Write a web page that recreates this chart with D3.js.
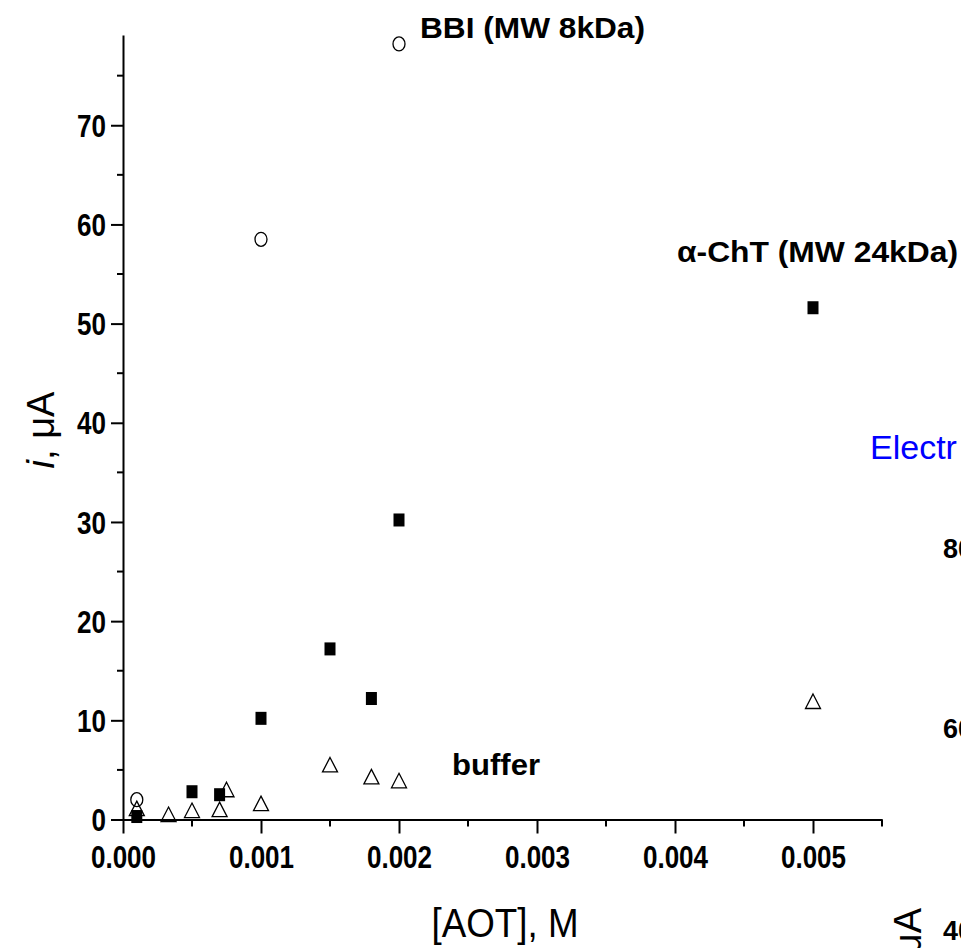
<!DOCTYPE html>
<html><head><meta charset="utf-8">
<script src="https://cdn.jsdelivr.net/npm/d3@7"></script>
<style>body{margin:0;background:#fff}svg{display:block}</style>
</head><body>
<svg id="c" width="961" height="948"></svg>
<script>
// ---- data ----
const xMajorTicks = [0, 0.001, 0.002, 0.003, 0.004, 0.005];
const xMinorTicks = [0.0005, 0.0015, 0.0025, 0.0035, 0.0045, 0.0055];
const yMajorTicks = [0, 10, 20, 30, 40, 50, 60, 70];
const yMinorTicks = [5, 15, 25, 35, 45, 55, 65, 75];
const bbiX = [0.0001, 0.001, 0.002];
const bbiY = [2.0, 58.5, 78.2];
const chtX = [0.0001, 0.0005, 0.0007, 0.001, 0.0015, 0.0018, 0.002, 0.005];
const chtY = [0.3, 2.8, 2.5, 10.2, 17.2, 12.2, 30.2, 51.6];
const bufX = [0.0001, 0.00033, 0.0005, 0.0007, 0.00075, 0.001, 0.0015, 0.0018, 0.002, 0.005];
const bufY = [1.1, 0.5, 0.9, 1.0, 3.0, 1.6, 5.5, 4.3, 3.9, 11.9];
const seriesLabels = ["BBI (MW 8kDa)", "\u03b1-ChT (MW 24kDa)", "buffer"];

const FONT = "Arial, 'Liberation Sans', sans-serif";
const svg = d3.select("#c");
const x = d3.scaleLinear().domain([0, 0.0055]).range([123, 882]);
const y = d3.scaleLinear().domain([0, 79.1]).range([819.5, 35]);

function fitWidth(sel, w) {
  sel.attr("textLength", w).attr("lengthAdjust", "spacingAndGlyphs");
}
function condense(sel, f) {
  sel.each(function () {
    const w = this.getComputedTextLength();
    d3.select(this).attr("textLength", w * f).attr("lengthAdjust", "spacingAndGlyphs");
  });
}

// x axis
const gx = svg.append("g").attr("transform", `translate(0,${y(0)})`);
gx.call(d3.axisBottom(x).tickValues(xMajorTicks).tickSize(14).tickSizeOuter(0)
  .tickFormat(d3.format(".3f")).tickPadding(12));
svg.append("g").attr("transform", `translate(0,${y(0)})`)
  .selectAll("line").data(xMinorTicks).join("line")
  .attr("x1", d => x(d)).attr("x2", d => x(d)).attr("y1", 0).attr("y2", 7)
  .attr("stroke", "#000").attr("stroke-width", 2);

// y axis
const gy = svg.append("g").attr("transform", `translate(${x(0)},0)`);
gy.call(d3.axisLeft(y).tickValues(yMajorTicks).tickSize(12).tickSizeOuter(0).tickPadding(5));
svg.append("g").attr("transform", `translate(${x(0)},0)`)
  .selectAll("line").data(yMinorTicks).join("line")
  .attr("x1", 0).attr("x2", -6).attr("y1", d => y(d)).attr("y2", d => y(d))
  .attr("stroke", "#000").attr("stroke-width", 2);

[gx, gy].forEach(g => {
  g.select(".domain").attr("stroke", "#000").attr("stroke-width", 2);
  g.selectAll(".tick line").attr("stroke", "#000").attr("stroke-width", 2);
  g.selectAll(".tick text").attr("fill", "#000")
    .style("font-family", FONT).style("font-size", "31px").style("font-weight", "bold");
});
gx.selectAll(".tick text").attr("dy", "0.71em");
gy.selectAll(".tick text").attr("dy", "0.36em");
condense(gx.selectAll(".tick text"), 0.84);
condense(gy.selectAll(".tick text"), 0.84);

// axis titles
fitWidth(svg.append("text").attr("x", 505).attr("y", 937).attr("text-anchor", "middle")
  .style("font-family", FONT).style("font-size", "41px")
  .text("[AOT], M"), 147);
const yt = svg.append("text").attr("transform", "translate(54,430) rotate(-90)")
  .attr("text-anchor", "middle")
  .style("font-family", FONT).style("font-size", "38px");
yt.append("tspan").style("font-style", "italic").text("i");
yt.append("tspan").text(", \u03bcA");

// markers
const mk = svg.append("g");
mk.selectAll("ellipse").data(d3.zip(bbiX, bbiY)).join("ellipse")
  .attr("cx", d => x(d[0])).attr("cy", d => y(d[1])).attr("rx", 6).attr("ry", 7)
  .attr("fill", "none").attr("stroke", "#000").attr("stroke-width", 1.3);
mk.selectAll("path").data(d3.zip(bufX, bufY)).join("path")
  .attr("d", d => { const cx = x(d[0]), cy = y(d[1]);
    return `M${cx},${cy-7.5}L${cx+7.5},${cy+7}L${cx-7.5},${cy+7}Z`; })
  .attr("fill", "none").attr("stroke", "#000").attr("stroke-width", 1.3);
mk.selectAll("rect").data(d3.zip(chtX, chtY)).join("rect")
  .attr("x", d => x(d[0]) - 5.5).attr("y", d => y(d[1]) - 6.5).attr("width", 11).attr("height", 13)
  .attr("fill", "#000");

// series labels
const lab = [[420, 38, 225], [677, 262, 281], [452, 775, 88]];
svg.append("g").selectAll("text").data(seriesLabels).join("text")
  .attr("x", (d, i) => lab[i][0]).attr("y", (d, i) => lab[i][1])
  .attr("textLength", (d, i) => lab[i][2]).attr("lengthAdjust", "spacingAndGlyphs")
  .style("font-family", FONT).style("font-size", "29px")
  .style("font-weight", "bold").text(d => d);

// fragment of neighbouring chart at right edge
svg.append("text").attr("x", 870).attr("y", 459).attr("fill", "#0000ff")
  .style("font-family", FONT).style("font-size", "34px")
  .text("Electr");
[["80", 558], ["60", 738], ["40", 940]].forEach(([t, yy]) => {
  svg.append("text").attr("x", 943).attr("y", yy)
    .style("font-family", FONT).style("font-size", "27px")
    .style("font-weight", "bold").text(t);
});
const yt2 = svg.append("text").attr("transform", "translate(921,908) rotate(-90)")
  .attr("text-anchor", "end")
  .style("font-family", FONT).style("font-size", "38px");
yt2.append("tspan").style("font-style", "italic").text("i");
yt2.append("tspan").text(", \u03bcA");
</script>
</body></html>
